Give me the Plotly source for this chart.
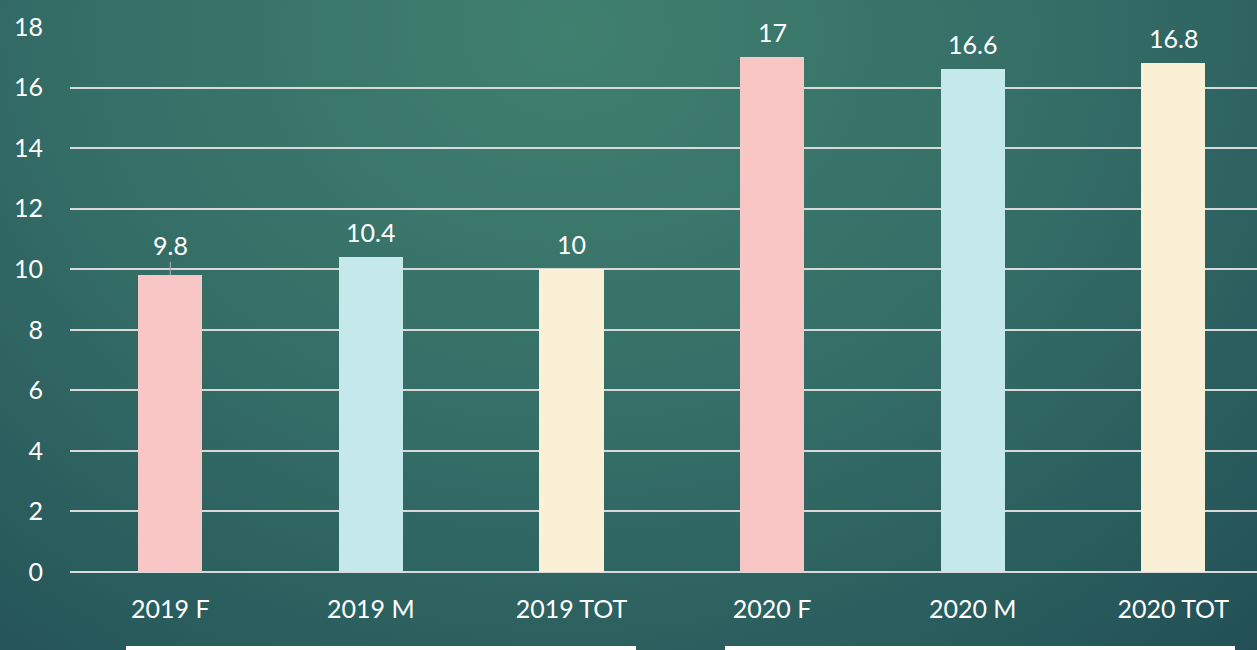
import base64
import plotly.graph_objects as go

categories = ["2019 F", "2019 M", "2019 TOT", "2020 F", "2020 M", "2020 TOT"]
values = [9.8, 10.4, 10, 17, 16.6, 16.8]
bar_colors = ["#F8C7C5", "#C5E8EA", "#FAF0D6", "#F8C7C5", "#C5E8EA", "#FAF0D6"]
y_ticks = [0, 2, 4, 6, 8, 10, 12, 14, 16, 18]

W, H = 1257, 650
ML, MR, MT, MB = 70, 0, 27, 78
PW, PH = W - ML - MR, H - MT - MB

svg = f'''<svg xmlns="http://www.w3.org/2000/svg" width="{W}" height="{H}" viewBox="0 0 {W} {H}" preserveAspectRatio="none">
<defs><radialGradient id="g" cx="0.45" cy="0.05" r="0.85" gradientTransform="translate(0.45 0.05) scale(1 1.6) translate(-0.45 -0.05)">
<stop offset="0" stop-color="#40806F"/>
<stop offset="0.45" stop-color="#356E67"/>
<stop offset="0.8" stop-color="#285A5C"/>
<stop offset="1" stop-color="#1F4B53"/>
</radialGradient></defs>
<rect width="{W}" height="{H}" fill="url(#g)"/>
</svg>'''
bg_src = "data:image/svg+xml;base64," + base64.b64encode(svg.encode()).decode()

fig = go.Figure()
fig.add_trace(go.Bar(
    x=categories, y=values, marker=dict(color=bar_colors, line=dict(width=0)),
    width=0.32, hoverinfo="skip",
))

font = dict(family="Lato, 'Noto Sans', sans-serif", size=25, color="#FFFFFF")

annotations = []
for c, v in zip(categories, values):
    if c == "2019 F":
        annotations.append(dict(x=c, y=v, xref="x", yref="y", text=f"{v:g}",
                                showarrow=True, arrowhead=0, arrowwidth=1.2,
                                arrowcolor="#A6A6A6", ax=0, ay=-30, font=font,
                                standoff=0))
    else:
        annotations.append(dict(x=c, y=v, xref="x", yref="y", text=f"{v:g}",
                                showarrow=False, yanchor="bottom", yshift=8,
                                font=font))

fig.update_layout(
    width=W, height=H, autosize=False,
    margin=dict(l=ML, r=MR, t=MT, b=MB, pad=0),
    paper_bgcolor="#2E6262", plot_bgcolor="rgba(0,0,0,0)",
    font=font, showlegend=False, bargap=0,
    annotations=annotations,
    images=[dict(source=bg_src, xref="paper", yref="paper",
                 x=-ML / PW, y=1 + MT / PH, sizex=W / PW, sizey=H / PH,
                 xanchor="left", yanchor="top", sizing="stretch", layer="below")],
    shapes=[
        dict(type="rect", xref="paper", yref="paper",
             x0=(126 - ML) / PW, x1=(636 - ML) / PW,
             y0=-(H + 10 - MT - PH) / PH, y1=-(646 - MT - PH) / PH,
             fillcolor="#FFFFFF", line=dict(width=0), layer="above"),
        dict(type="rect", xref="paper", yref="paper",
             x0=(725 - ML) / PW, x1=(1235 - ML) / PW,
             y0=-(H + 10 - MT - PH) / PH, y1=-(646 - MT - PH) / PH,
             fillcolor="#FFFFFF", line=dict(width=0), layer="above"),
    ],
    xaxis=dict(range=[-0.5, -0.5 + (W - ML) / 200.6], showgrid=False, zeroline=False,
               showline=False, ticks="", tickfont=font, ticklabelstandoff=20,
               fixedrange=True),
    yaxis=dict(range=[0, 18], tickvals=y_ticks, showgrid=True, gridcolor="#D9D9D9",
               gridwidth=1.5, zeroline=True, zerolinecolor="#D9D9D9", zerolinewidth=1.5,
               showline=False, ticks="", tickfont=font, ticklabelstandoff=26,
               fixedrange=True),
)

fig.write_html("out.html", config={"displayModeBar": False},
               post_script="document.body.style.margin='0';document.body.style.overflow='hidden';")
